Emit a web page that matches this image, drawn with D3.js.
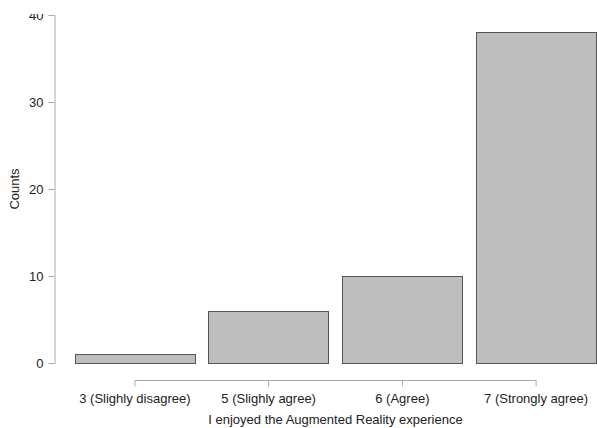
<!DOCTYPE html>
<html>
<head>
<meta charset="utf-8">
<script src="https://cdn.jsdelivr.net/npm/d3@7"></script>
<style>
  body { margin: 0; background: #fff; }
  text { font-family: "Liberation Sans", Arial, sans-serif; }
</style>
</head>
<body>
<div id="chart"></div>
<script>
// data
var categories = ["3 (Slighly disagree)", "5 (Slighly agree)", "6 (Agree)", "7 (Strongly agree)"];
var counts = [1, 6, 10, 38];
var yTicks = [0, 10, 20, 30, 40];

var width = 597, height = 428;

var svg = d3.select("#chart").append("svg")
  .attr("width", width)
  .attr("height", height);

// the top of the source image is cut off a little
svg.append("clipPath").attr("id", "cut")
  .append("rect").attr("x", 0).attr("y", 14).attr("width", width).attr("height", height);

var g = svg.append("g").attr("clip-path", "url(#cut)");

var x = d3.scaleBand()
  .domain(categories)
  .range([68, 603])
  .paddingInner(0.1)
  .paddingOuter(0.05);

var y = d3.scaleLinear()
  .domain([0, 40])
  .range([363, 15]);

// bars
g.append("g")
  .selectAll("rect")
  .data(counts)
  .enter().append("rect")
  .attr("x", function (d, i) { return Math.round(x(categories[i])) + 0.5; })
  .attr("y", function (d) { return Math.round(y(d)) + 0.5; })
  .attr("width", Math.round(x.bandwidth()))
  .attr("height", function (d) { return Math.round(y(0)) - Math.round(y(d)); })
  .style("fill", "#bebebe")
  .style("stroke", "#555")
  .style("stroke-width", 1);

// y axis
var yAxis = g.append("g")
  .attr("transform", "translate(54.5,0)")
  .call(d3.axisLeft(y).tickValues(yTicks).tickSize(6).tickPadding(5));
yAxis.select(".domain").attr("stroke", "#aaa");
yAxis.selectAll(".tick line").attr("stroke", "#aaa");
yAxis.selectAll("text").style("font-size", "13px").attr("fill", "#222");

// x axis, from first bar centre to last bar centre
var xAxis = g.append("g")
  .attr("transform", "translate(0,380.5)")
  .call(d3.axisBottom(x).tickSize(6).tickSizeOuter(0).tickPadding(5));
xAxis.select(".domain")
  .attr("stroke", "#aaa")
  .attr("d", "M" + (x(categories[0]) + x.bandwidth() / 2) + ",0H" + (x(categories[3]) + x.bandwidth() / 2));
xAxis.selectAll(".tick line").attr("stroke", "#aaa");
xAxis.selectAll("text").style("font-size", "13px").attr("fill", "#222").attr("dy", "0.9em");

// axis titles
g.append("text")
  .attr("x", (x(categories[0]) + x(categories[3]) + x.bandwidth()) / 2)
  .attr("y", 424)
  .attr("text-anchor", "middle")
  .style("font-size", "13px")
  .attr("fill", "#222")
  .text("I enjoyed the Augmented Reality experience");

g.append("text")
  .attr("transform", "translate(19,189) rotate(-90)")
  .attr("text-anchor", "middle")
  .style("font-size", "13px")
  .attr("fill", "#222")
  .text("Counts");
</script>
</body>
</html>
